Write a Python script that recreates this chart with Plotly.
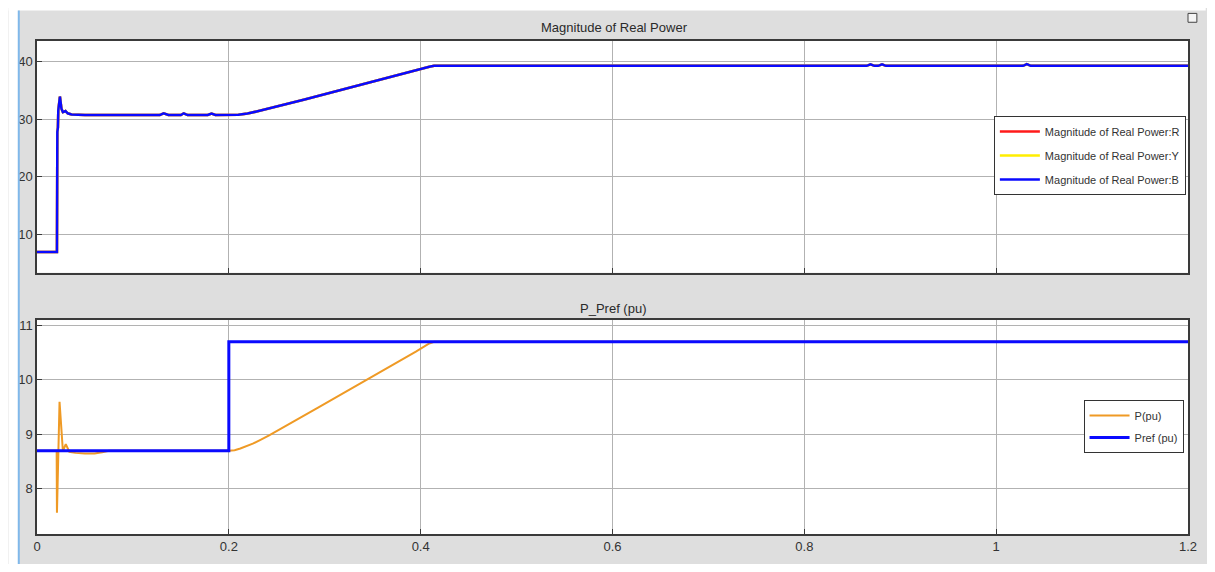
import plotly.graph_objects as go

# ---------------- data ----------------
# Top panel: Magnitude of Real Power (phases R, Y, B coincide)
t_mag = [0, 0.0208, 0.0212, 0.0218, 0.0222, 0.0239, 0.0255, 0.027, 0.0297, 0.032, 0.036,
         0.05, 0.128, 0.132, 0.137, 0.15, 0.153, 0.157, 0.178, 0.182, 0.186,
         0.2, 0.21, 0.2195, 0.23, 0.278, 0.346, 0.4007, 0.409, 0.414, 0.42,
         0.865, 0.869, 0.873, 0.877, 0.881, 0.885, 1.028, 1.032, 1.036, 1.2]
mag_B = [7, 7, 27.8, 28.5, 31.5, 33.9, 31.8, 31.2, 31.4, 31.0, 30.8,
         30.7, 30.7, 31.0, 30.7, 30.7, 31.0, 30.7, 30.7, 30.95, 30.7,
         30.7, 30.75, 30.95, 31.35, 33.35, 36.35, 38.7, 39.05, 39.2, 39.2,
         39.2, 39.45, 39.2, 39.2, 39.45, 39.2, 39.2, 39.5, 39.2, 39.2]
mag_R = mag_B
mag_Y = mag_B

# Bottom panel: P_Pref (pu)
t_p = [0, 0.0205, 0.0208, 0.0235, 0.027, 0.030, 0.0337, 0.04, 0.05, 0.06, 0.068, 0.075,
       0.2, 0.206, 0.212, 0.218, 0.225, 0.233, 0.242, 0.293, 0.344, 0.395, 0.409, 0.414, 1.2]
p_pu = [8.7, 8.7, 7.56, 9.6, 8.69, 8.82, 8.68, 8.66, 8.65, 8.65, 8.67, 8.7,
        8.7, 8.71, 8.74, 8.78, 8.83, 8.9, 8.98, 9.49, 10.0, 10.52, 10.67, 10.7, 10.7]
t_ref = [0, 0.2, 1.2]
pref_pu = [8.7, 10.7, 10.7]

x_ticks = [0, 0.2, 0.4, 0.6, 0.8, 1, 1.2]
x_ticktext = ["0", "0.2", "0.4", "0.6", "0.8", "1", "1.2"]
top_yticks = [10, 20, 30, 40]
bot_yticks = [8, 9, 10, 11]

top_title = "Magnitude of Real Power"
bot_title = "P_Pref (pu)"

# ---------------- figure ----------------
OFF = 8  # default page body margin
W, H = 1215 - 2 * OFF, 572 - 2 * OFF
ML = 29 - OFF
MT = 41 - OFF
MR = W - (1197 - OFF)
MB = H - (541 - OFF)
PW, PH = W - ML - MR, H - MT - MB

def px_x(px):  # px in window coordinates
    return (px - OFF - ML) / PW

def px_y(py):
    return (H - MB - (py - OFF)) / PH

FONT = "Liberation Sans, Arial, sans-serif"
BLUE = "#0a0aff"
ORANGE = "#ef9a25"

fig = go.Figure()

fig.add_trace(go.Scatter(x=t_mag, y=mag_R, name="Magnitude of Real Power:R", mode="lines",
                         line=dict(color="#ff1a1a", width=2.5), xaxis="x2", yaxis="y2",
                         legend="legend", legendgroup="R"))
fig.add_trace(go.Scatter(x=t_mag, y=mag_Y, name="Magnitude of Real Power:Y", mode="lines",
                         line=dict(color="#ffee00", width=2.5), xaxis="x2", yaxis="y2",
                         legend="legend", legendgroup="Y"))
fig.add_trace(go.Scatter(x=t_mag, y=mag_B, name="Magnitude of Real Power:B", mode="lines",
                         line=dict(color=BLUE, width=2.5), xaxis="x2", yaxis="y2",
                         legend="legend", legendgroup="B"))

fig.add_trace(go.Scatter(x=t_p, y=p_pu, name="P(pu)", mode="lines",
                         line=dict(color=ORANGE, width=2), xaxis="x", yaxis="y",
                         legend="legend2", legendgroup="P"))
fig.add_trace(go.Scatter(x=t_ref, y=pref_pu, name="Pref (pu)", mode="lines",
                         line=dict(color=BLUE, width=3, shape="hv"), xaxis="x", yaxis="y",
                         legend="legend2", legendgroup="Pref"))

axis_common = dict(
    showgrid=True, gridcolor="#b2b2b2", gridwidth=1,
    showline=True, linecolor="#3a3a3a", linewidth=1.5, mirror=True,
    ticks="inside", ticklen=5, tickcolor="#3a3a3a",
    zeroline=False,
    tickfont=dict(family=FONT, size=13, color="#333333"),
)

top_dom = [px_y(276), 1.0]
bot_dom = [0.0, px_y(324)]

fig.update_layout(
    width=W, height=H,
    margin=dict(l=ML, r=MR, t=MT, b=MB),
    paper_bgcolor="#dedede",
    plot_bgcolor="white",
    showlegend=True,
    xaxis=dict(domain=[0, 1], anchor="y", range=[0, 1.2], tickvals=x_ticks,
               ticktext=x_ticktext, **axis_common),
    yaxis=dict(domain=bot_dom, anchor="x", range=[7.17, 11.1], tickvals=bot_yticks,
               **axis_common),
    xaxis2=dict(domain=[0, 1], anchor="y2", range=[0, 1.2], tickvals=x_ticks,
                showticklabels=False, matches="x", **axis_common),
    yaxis2=dict(domain=top_dom, anchor="x2", range=[3.44, 43.5], tickvals=top_yticks,
                **axis_common),
    legend=dict(x=px_x(1000), y=px_y(117), xanchor="left", yanchor="top",
                bgcolor="white", bordercolor="#333333", borderwidth=1,
                font=dict(family=FONT, size=11, color="#333333"),
                tracegroupgap=5, itemwidth=40),
    legend2=dict(x=px_x(1091), y=px_y(405), xanchor="left", yanchor="top",
                 bgcolor="white", bordercolor="#333333", borderwidth=1,
                 font=dict(family=FONT, size=11, color="#333333"),
                 tracegroupgap=3, itemwidth=40),
    annotations=[
        dict(text=top_title, x=px_x(615), y=px_y(27), xref="paper", yref="paper",
             xanchor="center", yanchor="middle", showarrow=False,
             font=dict(family=FONT, size=13, color="#2a2a2a")),
        dict(text=bot_title, x=px_x(614), y=px_y(312), xref="paper", yref="paper",
             xanchor="center", yanchor="middle", showarrow=False,
             font=dict(family=FONT, size=13, color="#2a2a2a")),
    ],
    shapes=[
        # thin white strips completing the window frame
        dict(type="rect", xref="paper", yref="paper", x0=px_x(0), x1=px_x(1215),
             y0=px_y(10), y1=px_y(0), fillcolor="white", line=dict(width=0), layer="above"),
        dict(type="rect", xref="paper", yref="paper", x0=px_x(0), x1=px_x(10),
             y0=px_y(572), y1=px_y(0), fillcolor="white", line=dict(width=0), layer="above"),
        dict(type="line", xref="paper", yref="paper", x0=px_x(10.5), x1=px_x(10.5),
             y0=px_y(572), y1=px_y(10), line=dict(color="#7fb8ea", width=2), layer="above"),
        # small undock icon at top right
        dict(type="rect", xref="paper", yref="paper", x0=px_x(1197), x1=px_x(1206),
             y0=px_y(22), y1=px_y(13), fillcolor="#f4f4f4",
             line=dict(color="#444444", width=1), layer="above"),
    ],
)

fig.write_html("out.html", config={"displayModeBar": False})
